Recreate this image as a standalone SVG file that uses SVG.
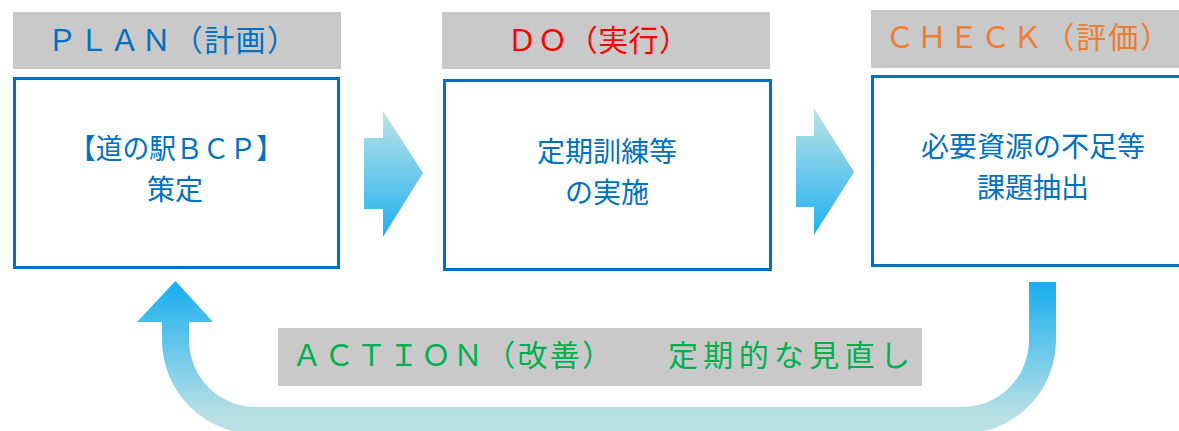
<svg xmlns="http://www.w3.org/2000/svg" width="1179" height="431" viewBox="0 0 1179 431">
<style>
.lbl{fill:#C9C9C9}
.box{fill:#FFFFFF;stroke:#0070C0;stroke-width:3}
.t{font-family:"Noto Sans CJK JP","Noto Sans",sans-serif;}
.bt{font-size:28px;fill:#0070C0;text-anchor:middle}
.ht{font-size:30px}
</style>
<defs>
<linearGradient id="ga" x1="0" y1="0" x2="0" y2="1">
<stop offset="0" stop-color="#BFE2E5"/>
<stop offset="1" stop-color="#1FB0F0"/>
</linearGradient>
<linearGradient id="gu" gradientUnits="userSpaceOnUse" x1="0" y1="282" x2="0" y2="415">
<stop offset="0" stop-color="#16AEF0"/>
<stop offset="1" stop-color="#B9E0E4"/>
</linearGradient>
</defs>
<g id="plan">
<rect class="lbl" x="13" y="12" width="328" height="57"/>
<text class="t ht" x="47" y="51" fill="#0070C0" textLength="250" lengthAdjust="spacing">ＰＬＡＮ（計画）</text>
<rect class="box" x="14.5" y="78.5" width="324" height="189"/>
<text class="t bt" x="176" y="159" textLength="214" lengthAdjust="spacingAndGlyphs">【道の駅ＢＣＰ】</text>
<text class="t bt" x="175" y="200">策定</text>
</g>
<g id="do">
<rect class="lbl" x="442" y="12" width="328" height="57"/>
<text class="t ht" x="507" y="51" fill="#FF0000" textLength="182" lengthAdjust="spacing">ＤＯ（実行）</text>
<rect class="box" x="444.5" y="80.5" width="326" height="189"/>
<text class="t bt" x="607" y="162">定期訓練等</text>
<text class="t bt" x="607" y="203">の実施</text>
</g>
<g id="check">
<rect class="lbl" x="871" y="10" width="310" height="58"/>
<text class="t ht" x="885" y="48" fill="#ED7D31" textLength="285" lengthAdjust="spacing">ＣＨＥＣＫ（評価）</text>
<rect class="box" x="872.5" y="76.5" width="330" height="189"/>
<text class="t bt" x="1033" y="157">必要資源の不足等</text>
<text class="t bt" x="1033" y="198">課題抽出</text>
</g>
<g id="action">
<rect class="lbl" x="278" y="328" width="644" height="58"/>
<text class="t ht" x="292" y="366" fill="#00B050" textLength="320" lengthAdjust="spacing">ＡＣＴＩＯＮ（改善）</text>
<text class="t ht" x="668" y="366" fill="#00B050" textLength="242" lengthAdjust="spacing">定期的な見直し</text>
</g>
<g id="connectors">
<polygon fill="url(#ga)" points="364,138 383,138 383,111 423,173 383,237 383,209 364,209"/>
<polygon fill="url(#ga)" points="796,136 814,136 814,108 854,172 814,235 814,207 796,207"/>
<path fill="url(#gu)" d="M1029 282 L1056 282 L1056 340 A94 94 0 0 1 962 434 L256 434 A94 94 0 0 1 162 340 L162 322 L137 322 L175.5 281 L213 322 L189 322 L189 340 A67 67 0 0 0 256 407 L962 407 A67 67 0 0 0 1029 340 Z"/>
</g>
</svg>
